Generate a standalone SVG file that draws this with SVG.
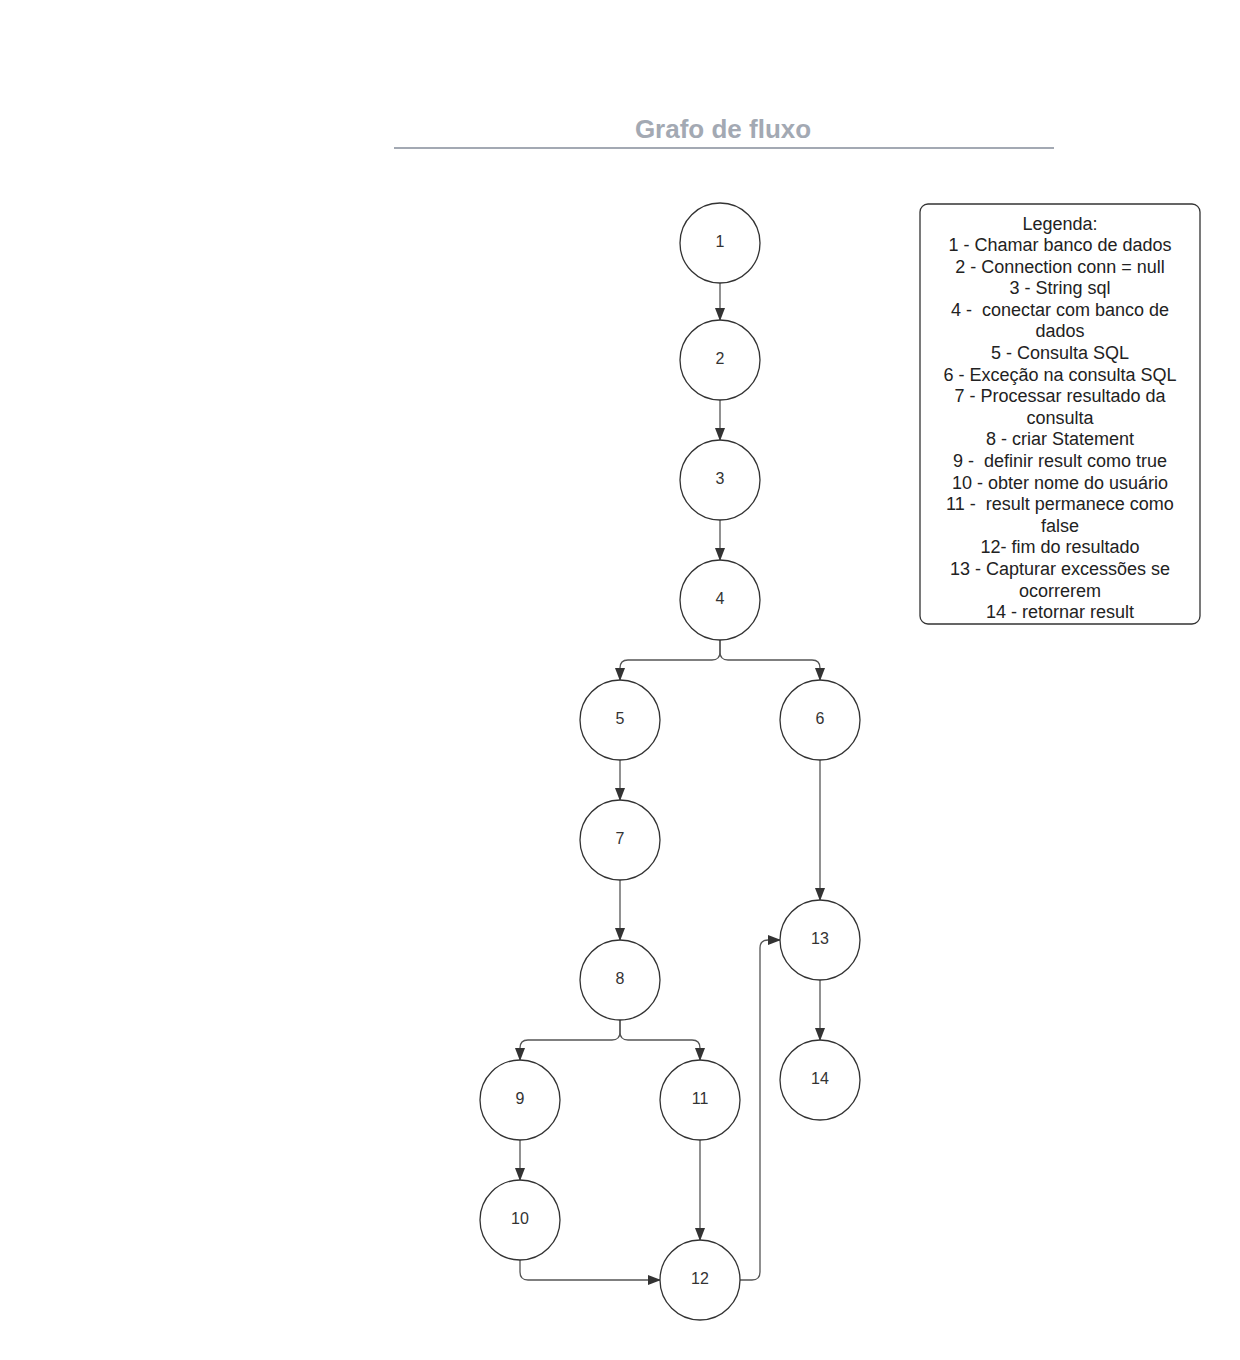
<svg xmlns="http://www.w3.org/2000/svg" width="1240" height="1360" viewBox="0 0 1240 1360">
<defs>
<marker id="arr" markerWidth="13" markerHeight="11" refX="12" refY="5" orient="auto" markerUnits="userSpaceOnUse" viewBox="0 0 13 10">
<path d="M0,0 L13,5 L0,10 Z" fill="#333"/>
</marker>
<style>
.node circle{fill:#fff;stroke:#333;stroke-width:1.3}
.node text{font-family:"Liberation Sans",Arial,sans-serif;font-size:16px;fill:#333;text-anchor:middle}
.edge{fill:none;stroke:#555;stroke-width:1.3;marker-end:url(#arr)}
.leg{font-family:"Liberation Sans",Arial,sans-serif;font-size:18px;fill:#222;text-anchor:middle}
</style>
</defs>
<rect width="1240" height="1360" fill="#fff"/>
<g id="title">
<text x="723" y="138" font-family="Liberation Sans,Arial,sans-serif" font-size="26" font-weight="bold" fill="#a3a9b3" text-anchor="middle">Grafo de fluxo</text>
<line x1="394" y1="148" x2="1054" y2="148" stroke="#a3a9b3" stroke-width="2"/>
</g>
<g id="connectors">
<path class="edge" d="M720,283 L720,320"/>
<path class="edge" d="M720,400 L720,440"/>
<path class="edge" d="M720,520 L720,560"/>
<path class="edge" d="M720,640 L720,652 Q720,660 712,660 L628,660 Q620,660 620,668 L620,680"/>
<path class="edge" d="M720,640 L720,652 Q720,660 728,660 L812,660 Q820,660 820,668 L820,680"/>
<path class="edge" d="M620,760 L620,800"/>
<path class="edge" d="M620,880 L620,940"/>
<path class="edge" d="M620,1020 L620,1032 Q620,1040 612,1040 L528,1040 Q520,1040 520,1048 L520,1060"/>
<path class="edge" d="M620,1020 L620,1032 Q620,1040 628,1040 L692,1040 Q700,1040 700,1048 L700,1060"/>
<path class="edge" d="M520,1140 L520,1180"/>
<path class="edge" d="M700,1140 L700,1240"/>
<path class="edge" d="M520,1260 L520,1272 Q520,1280 528,1280 L660,1280"/>
<path class="edge" d="M740,1280 L752,1280 Q760,1280 760,1272 L760,948 Q760,940 768,940 L780,940"/>
<path class="edge" d="M820,760 L820,900"/>
<path class="edge" d="M820,980 L820,1040"/>
</g>
<g id="n1" class="node"><circle cx="720" cy="243" r="40"/><text x="720" y="247">1</text></g>
<g id="n2" class="node"><circle cx="720" cy="360" r="40"/><text x="720" y="364">2</text></g>
<g id="n3" class="node"><circle cx="720" cy="480" r="40"/><text x="720" y="484">3</text></g>
<g id="n4" class="node"><circle cx="720" cy="600" r="40"/><text x="720" y="604">4</text></g>
<g id="n5" class="node"><circle cx="620" cy="720" r="40"/><text x="620" y="724">5</text></g>
<g id="n6" class="node"><circle cx="820" cy="720" r="40"/><text x="820" y="724">6</text></g>
<g id="n7" class="node"><circle cx="620" cy="840" r="40"/><text x="620" y="844">7</text></g>
<g id="n8" class="node"><circle cx="620" cy="980" r="40"/><text x="620" y="984">8</text></g>
<g id="n9" class="node"><circle cx="520" cy="1100" r="40"/><text x="520" y="1104">9</text></g>
<g id="n10" class="node"><circle cx="520" cy="1220" r="40"/><text x="520" y="1224">10</text></g>
<g id="n11" class="node"><circle cx="700" cy="1100" r="40"/><text x="700" y="1104">11</text></g>
<g id="n12" class="node"><circle cx="700" cy="1280" r="40"/><text x="700" y="1284">12</text></g>
<g id="n13" class="node"><circle cx="820" cy="940" r="40"/><text x="820" y="944">13</text></g>
<g id="n14" class="node"><circle cx="820" cy="1080" r="40"/><text x="820" y="1084">14</text></g>
<g id="legend">
<rect x="920" y="204" width="280" height="420" rx="8" fill="#fff" stroke="#333" stroke-width="1.3"/>
<text class="leg" x="1060" y="230">Legenda:</text>
<text class="leg" x="1060" y="251">1 - Chamar banco de dados</text>
<text class="leg" x="1060" y="273">2 - Connection conn = null</text>
<text class="leg" x="1060" y="294">3 - String sql</text>
<text class="leg" x="1060" y="316" xml:space="preserve">4 -  conectar com banco de</text>
<text class="leg" x="1060" y="337">dados</text>
<text class="leg" x="1060" y="359">5 - Consulta SQL</text>
<text class="leg" x="1060" y="381">6 - Exceção na consulta SQL</text>
<text class="leg" x="1060" y="402">7 - Processar resultado da</text>
<text class="leg" x="1060" y="424">consulta</text>
<text class="leg" x="1060" y="445">8 - criar Statement</text>
<text class="leg" x="1060" y="467" xml:space="preserve">9 -  definir result como true</text>
<text class="leg" x="1060" y="489">10 - obter nome do usuário</text>
<text class="leg" x="1060" y="510" xml:space="preserve">11 -  result permanece como</text>
<text class="leg" x="1060" y="532">false</text>
<text class="leg" x="1060" y="553">12- fim do resultado</text>
<text class="leg" x="1060" y="575">13 - Capturar excessões se</text>
<text class="leg" x="1060" y="597">ocorrerem</text>
<text class="leg" x="1060" y="618">14 - retornar result</text>
</g>
</svg>
